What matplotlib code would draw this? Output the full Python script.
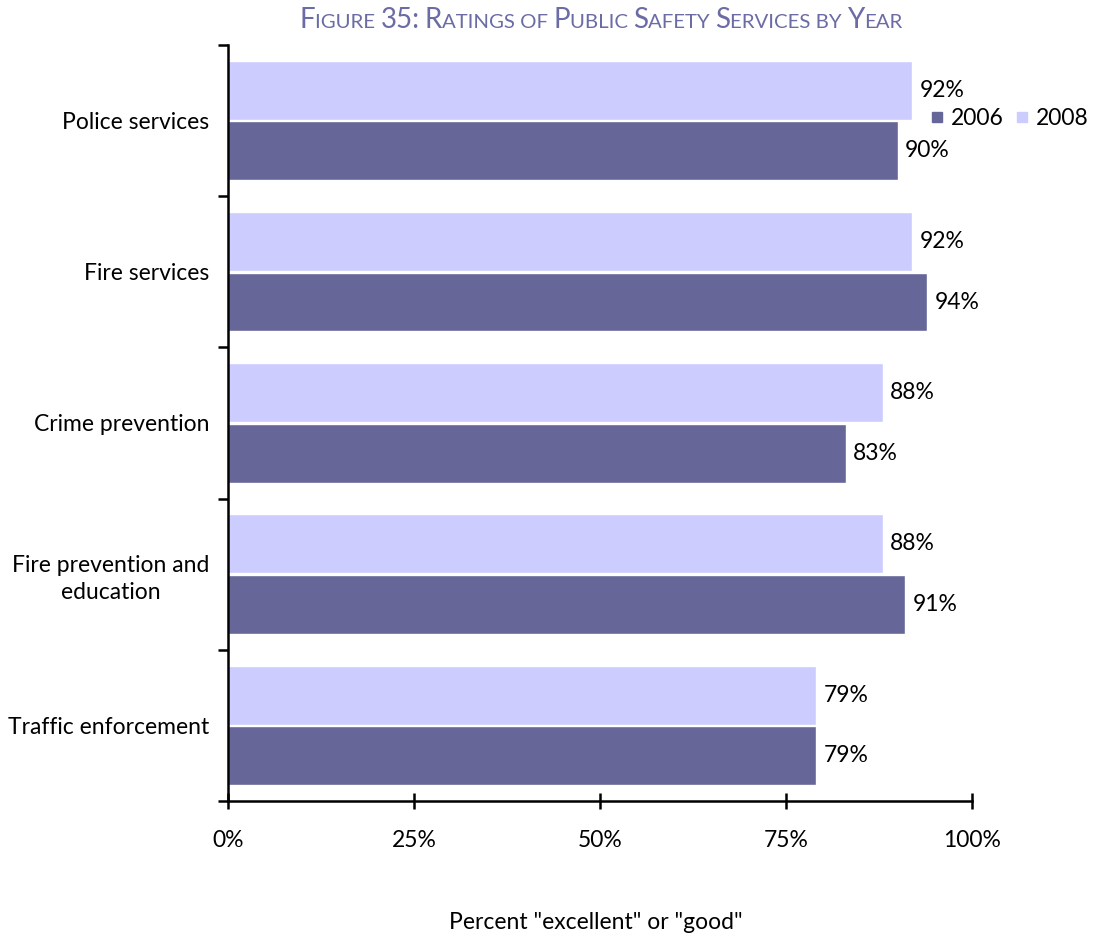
import matplotlib.pyplot as plt
from matplotlib.lines import Line2D
from matplotlib.transforms import offset_copy
import numpy as np

plt.rcParams["font.family"] = ["Lato", "DejaVu Sans"]

# Survey results
categories = [
    "Police services",
    "Fire services",
    "Crime prevention",
    "Fire prevention and\neducation",
    "Traffic enforcement",
]
values_2006 = [90, 94, 83, 91, 79]
values_2008 = [92, 92, 88, 88, 79]
x_ticks = [0, 25, 50, 75, 100]

color_2006 = "#666699"
color_2008 = "#ccccff"
title_color = "#6b6ba6"
fs = 16.5

fig = plt.figure(figsize=(10.93, 9.39), dpi=100)
ax = fig.add_axes([0.2086, 0.147, 0.6807, 0.8051])

y = np.arange(len(categories))
bar_h = 0.39
offset = 0.2

bars_2008 = ax.barh(y - offset, values_2008, bar_h, color=color_2008,
                    edgecolor="white", linewidth=1.0, label="2008")
bars_2006 = ax.barh(y + offset, values_2006, bar_h, color=color_2006,
                    edgecolor="white", linewidth=1.0, label="2006")

for bars in (bars_2008, bars_2006):
    for rect in bars:
        w = rect.get_width()
        ax.annotate(f"{w:.0f}%", xy=(w, rect.get_y() + rect.get_height() / 2),
                    xytext=(5.5, 0), textcoords="offset points",
                    ha="left", va="center", fontsize=fs)

ax.set_xlim(0, 100)
ax.set_ylim(len(categories) - 0.5, -0.5)

# category labels at centres, tick marks on boundaries
ax.set_yticks(y)
ax.set_yticklabels(categories, fontsize=fs, multialignment="center",
                   linespacing=1.35)
ax.tick_params(axis="y", which="major", length=0, pad=13.5)
ax.set_yticks(np.arange(-0.5, len(categories)), minor=True)
ax.tick_params(axis="y", which="minor", length=7, width=1.8, direction="out")

ax.set_xticks(x_ticks)
ax.set_xticklabels([f"{t}%" for t in x_ticks], fontsize=fs)
ax.tick_params(axis="x", length=12, width=1.8, direction="inout", pad=15)

for side in ("top", "right"):
    ax.spines[side].set_visible(False)
for side in ("left", "bottom"):
    ax.spines[side].set_linewidth(1.8)

fig.text(0.545, 0.018, 'Percent "excellent" or "good"', ha="center",
         va="center", fontsize=fs)

# square legend keys
handles = [
    Line2D([], [], marker="s", linestyle="none", color=color_2006, markersize=7),
    Line2D([], [], marker="s", linestyle="none", color=color_2008, markersize=7),
]
fig.legend(handles, ["2006", "2008"], loc="center left",
           bbox_to_anchor=(0.852, 0.874), ncol=2, frameon=False,
           borderpad=0, borderaxespad=0,
           fontsize=fs, handlelength=0.5,
           handletextpad=0.35, columnspacing=0.55)

# small-caps title: lowercase letters drawn as smaller capitals
title = "Figure 35: Ratings of Public Safety Services by Year"
big, small = 20, 14.7
pieces = []
for ch in title:
    size = small if (ch.islower() or ch == " ") else big
    text = ch.upper()
    if pieces and pieces[-1][1] == size:
        pieces[-1] = (pieces[-1][0] + text, size)
    else:
        pieces.append((text, size))

fig.canvas.draw()
renderer = fig.canvas.get_renderer()
trans = fig.transFigure
texts = []
widths = []
for s, size in pieces:
    t = fig.text(0, 0.97, s, fontsize=size, color=title_color,
                 ha="left", va="baseline")
    # measure with non-breaking placeholder so trailing spaces count
    probe = fig.text(0, 0, s.replace(" ", "\u00a0"), fontsize=size)
    widths.append(probe.get_window_extent(renderer).width)
    probe.remove()
    texts.append(t)

x0 = 0.55 * fig.bbox.width - sum(widths) / 2
for t, w in zip(texts, widths):
    t.set_transform(offset_copy(trans, fig=fig, x=x0, units="dots"))
    x0 += w

fig.savefig("out.png", dpi=100)
